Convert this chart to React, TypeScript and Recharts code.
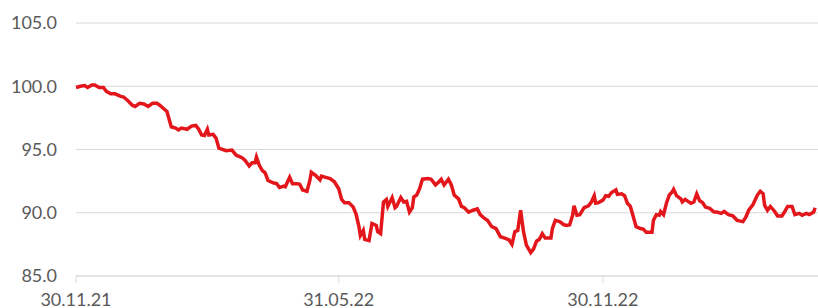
import { CartesianGrid, Line, LineChart, XAxis, YAxis } from 'recharts';

// days since 30.11.21
const days = [
  0, 3, 6, 8, 11, 13, 16, 19, 21, 24, 27, 31, 33, 36, 39, 41, 44, 47, 50, 53, 56, 58, 61, 63, 65, 66, 69, 71, 73, 77,
  80, 83, 85, 87, 89, 91, 92, 95, 97, 99, 104, 108, 111, 115, 117, 120, 122, 124, 125, 127, 129, 131, 133, 137, 139,
  141, 144, 145, 148, 150, 153, 155, 157, 160, 162, 163, 166, 169, 170, 173, 176, 179, 182, 184, 186, 189, 192, 194,
  196, 197, 199, 200, 203, 205, 208, 209, 211, 213, 215, 216, 219, 221, 222, 225, 227, 229, 231, 233, 234, 236, 238,
  240, 244, 246, 249, 251, 253, 255, 258, 260, 262, 265, 267, 269, 272, 275, 278, 280, 283, 285, 288, 291, 294, 297,
  300, 302, 304, 306, 308, 310, 312, 315, 317, 319, 321, 323, 325, 329, 330, 332, 335, 338, 340, 342, 344, 345, 347,
  349, 352, 355, 357, 359, 360, 362, 365, 367, 369, 371, 374, 375, 378, 380, 382, 384, 386, 388, 391, 393, 395, 398,
  399, 400, 402, 404, 405, 407, 409, 411, 413, 414, 416, 419, 420, 422, 424, 426, 428, 430, 432, 434, 436, 439, 442,
  444, 447, 449, 452, 455, 458, 462, 464, 466, 469, 472, 474, 476, 477, 479, 481, 484, 486, 489, 491, 493, 496, 498,
  501, 503, 506, 508, 511, 512
];

const values = [
  99.9, 100.0, 100.05, 99.9, 100.1, 100.1, 99.9, 99.9, 99.6, 99.4, 99.4, 99.2, 99.15, 98.85, 98.5, 98.4, 98.65, 98.6,
  98.4, 98.65, 98.65, 98.5, 98.2, 98.0, 97.2, 96.8, 96.7, 96.55, 96.7, 96.6, 96.85, 96.9, 96.6, 96.15, 96.1, 96.6,
  96.15, 96.2, 95.9, 95.1, 94.9, 94.95, 94.55, 94.35, 94.15, 93.7, 93.95, 93.95, 94.4, 93.75, 93.35, 93.15, 92.55,
  92.35, 92.3, 92.0, 92.1, 92.05, 92.8, 92.3, 92.3, 92.25, 91.8, 91.7, 92.55, 93.2, 92.95, 92.6, 92.9, 92.8, 92.7,
  92.45, 91.9, 91.05, 90.8, 90.8, 90.45, 89.9, 88.9, 88.2, 88.6, 87.9, 87.8, 89.15, 89.0, 88.5, 88.35, 90.85, 91.05,
  90.5, 91.2, 90.4, 90.5, 91.2, 90.85, 90.9, 90.05, 90.4, 91.25, 91.4, 91.9, 92.65, 92.7, 92.65, 92.2, 92.4, 92.65,
  92.2, 92.65, 92.2, 91.4, 91.1, 90.5, 90.4, 90.05, 90.2, 90.3, 89.85, 89.55, 89.4, 88.9, 88.75, 88.1, 88.0, 87.85,
  87.5, 88.5, 88.6, 90.2, 88.5, 87.45, 86.85, 87.15, 87.75, 87.9, 88.35, 88.0, 88.0, 88.75, 89.4, 89.3, 89.05, 89.0,
  89.05, 89.8, 90.55, 89.8, 89.85, 90.4, 90.55, 90.85, 91.35, 90.75, 90.8, 91.0, 91.35, 91.3, 91.6, 91.8, 91.45,
  91.5, 91.35, 90.75, 90.5, 89.7, 88.9, 88.75, 88.7, 88.45, 88.45, 88.45, 89.4, 89.85, 89.8, 90.1, 89.85, 90.75,
  91.4, 91.65, 91.85, 91.35, 91.1, 90.85, 91.05, 90.9, 90.75, 90.85, 91.5, 90.95, 90.8, 90.45, 90.35, 90.05, 90.05,
  89.95, 90.1, 89.85, 89.75, 89.4, 89.3, 89.65, 90.2, 90.65, 91.4, 91.7, 91.5, 90.6, 90.2, 90.5, 90.1, 89.75, 89.75,
  90.1, 90.5, 90.5, 89.85, 89.95, 89.8, 89.95, 89.85, 90.05, 90.4
];

const tickDays = [0, 182, 365];
const tickLabels = ['30.11.21', '31.05.22', '30.11.22'];
const yTicks = [85, 90, 95, 100, 105];

const data = days.map((day, i) => ({ day, value: values[i] }));

const axisFont = { fill: '#595959', fontSize: 18, fontFamily: 'Lato, sans-serif' };

export default function App() {
  return (
    <div style={{ position: 'absolute', left: 0, top: 0, width: 818, height: 308, background: '#fff' }}>
      <LineChart width={818} height={308} data={data} margin={{ top: 23, right: 0, bottom: 0, left: 0 }}>
        <CartesianGrid vertical={false} stroke="#d9d9d9" />
        <XAxis
          type="number"
          dataKey="day"
          domain={[0, 514]}
          ticks={tickDays}
          interval={0}
          height={32}
          tickFormatter={(v) => tickLabels[tickDays.indexOf(Number(v))] ?? ''}
          stroke="#d9d9d9"
          tickSize={7}
          tickMargin={10}
          tick={axisFont}
        />
        <YAxis
          type="number"
          domain={[85, 105]}
          ticks={yTicks}
          width={76}
          axisLine={false}
          tickLine={false}
          tickSize={0}
          tickMargin={19}
          tickFormatter={(v) => Number(v).toFixed(1)}
          tick={axisFont}
        />
        <Line
          type="linear"
          dataKey="value"
          stroke="#e3171b"
          strokeWidth={3.5}
          dot={false}
          isAnimationActive={false}
        />
      </LineChart>
    </div>
  );
}
